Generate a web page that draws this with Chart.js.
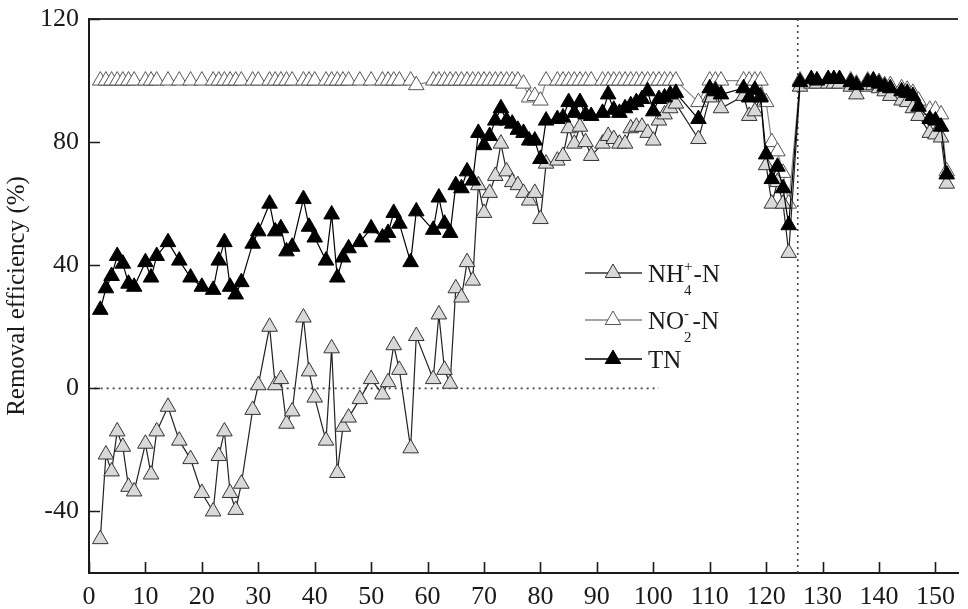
<!DOCTYPE html>
<html>
<head>
<meta charset="utf-8">
<script src="https://cdn.jsdelivr.net/npm/chart.js@4.4.1/dist/chart.umd.min.js"></script>
<style>
    html, body { margin: 0; padding: 0; background: #fff; }
    #wrap { width: 968px; height: 609px; position: relative; }
</style>
</head>
<body>
<div id="wrap"><canvas id="removal-chart"></canvas></div>
<script>
// 運行天數 (d)
const days = [
    2, 3, 4, 5, 6, 7, 8, 10, 11, 12, 14, 16, 18, 20, 22, 23, 24, 25, 26, 27, 29, 30, 32, 33, 34, 35, 36, 38, 39, 40,
    42, 43, 44, 45, 46, 48, 50, 52, 53, 54, 55, 57, 58, 61, 62, 63, 64, 65, 66, 67, 68, 69, 70, 71, 72, 73, 74, 75, 76, 77, 78, 79, 80,
    81, 83, 84, 85, 86, 87, 88, 89, 91, 92, 93, 94, 95, 96, 97, 98, 99, 100, 101, 102, 103, 104,
    108, 110, 111, 112, 116, 117, 118, 119, 120, 121, 122, 123, 124,
    126, 128, 129, 131, 132, 133, 135, 136, 138, 139, 140, 141, 142, 144, 145, 146, 147, 149, 150, 151, 152
];

// NH4+-N 去除率 (%)
const nh4Removal = [
    -49, -21.5, -27, -14, -19, -32, -33.5, -18, -28, -14, -6, -17, -23, -34, -40, -22, -14, -34, -39.5, -31, -7, 1, 20, 1, 3, -11.5, -7.5, 23, 5.5, -3,
    -17, 13, -27.5, -12.5, -9.5, -3.5, 3, -2, 2, 14, 6, -19.5, 17, 3, 24, 6, 1.5, 32.5, 29.5, 41, 35, 66, 57, 63.5, 69, 79.5, 70.5, 67, 66, 63.5, 61, 63.5, 55,
    73, 74, 75.5, 84.5, 79.5, 85, 80, 75.5, 79.5, 82, 81, 79.5, 79.5, 84.5, 85, 85, 83, 80.5, 87, 89, 91, 92.5,
    81, 94.5, 97, 91, 95, 88.5, 90, 95, 72.5, 60, 67, 60, 44,
    98, 99, 99, 99, 99, 99, 98, 95.5, 98, 98.5, 97.5, 96.5, 95, 93.5, 93, 91, 88.5, 83, 82.5, 81.5, 66.5
];

// NO2--N 去除率 (%)
const no2Removal = [
    100, 100, 100, 100, 100, 100, 100, 100, 100, 100, 100, 100, 100, 100, 100, 100, 100, 100, 100, 100, 100, 100, 100, 100, 100, 100, 100, 100, 100, 100,
    100, 100, 100, 100, 100, 100, 100, 100, 100, 100, 100, 100, 98.5, 100, 100, 100, 100, 100, 100, 100, 100, 100, 100, 100, 100, 100, 100, 100, 100, 99, 94.5, 95, 93.5,
    100, 100, 100, 100, 100, 100, 100, 100, 100, 100, 100, 100, 100, 100, 100, 100, 100, 100, 100, 100, 100, 100,
    93, 100, 100, 100, 100, 100, 100, 100, 93, 80, 77, 70, 60,
    100, 100, 100, 100, 100, 100, 100, 99, 100, 100, 99.5, 98.5, 98.5, 97.5, 97, 96, 93.5, 90.5, 90.5, 89, 70.5
];

// TN 去除率 (%)
const tnRemoval = [
    25.5, 32.5, 36.5, 43, 40.5, 34, 33, 41, 36, 43, 47.5, 41.5, 36, 33, 32, 41.5, 47.5, 33, 30.5, 34.5, 47, 51, 60, 51, 52, 44.5, 46, 61.5, 52.5, 49,
    41.5, 56.5, 36, 42.5, 45.5, 47.5, 52, 49, 50.5, 57, 53.5, 41, 57.5, 51.5, 62, 53.5, 50.5, 66, 65, 70.5, 67.5, 83, 79, 82, 87, 91, 87, 86, 84, 83, 80.5, 80.5, 74.5,
    87, 87.5, 88, 93, 89.5, 93, 89, 88.5, 89.5, 95.5, 90.5, 89.5, 91, 92, 93, 94, 96.5, 90, 94, 94.5, 95.5, 96,
    87.5, 97.5, 96.5, 95.5, 97.5, 94.5, 97, 94.5, 76, 68, 72, 65, 53,
    99.5, 100.5, 100, 100.5, 100.5, 100.5, 99.5, 98.5, 99.5, 100, 99, 98, 97.5, 96.5, 96, 95, 91.5, 87.5, 87, 85, 69.5
];

// 參考線：0 % 水平虛線、階段分隔垂直虛線
const zeroRefDays = [1, 101];
const zeroRefValues = [0, 0];
const phaseSplitDays = [125.6, 125.6];
const phaseSplitValues = [-60, 120];

// 座標軸
const xTickValues = [0, 10, 20, 30, 40, 50, 60, 70, 80, 90, 100, 110, 120, 130, 140, 150];
const yTickValues = [-40, 0, 40, 80, 120];
const xRange = [0, 154];
const yRange = [-60, 120];

const seriesLabels = ['NH4+-N', 'NO2--N', 'TN'];
const yAxisTitle = 'Removal efficiency (%)';

const FONT = '"Liberation Serif", "Times New Roman", serif';
const INK = '#1a1a1a';

function toPoints(xs, ys) {
    return xs.map((x, i) => ({ x: x, y: ys[i] }));
}

// 圖例條目：文字分段 (0 一般, 1 下標, -1 上標)
const legendRows = [
    { y: 273, parts: [['NH', 0], ['4', 1], ['+', -1], ['-N', 0]], line: '#333', fill: '#d9d9d9', stroke: '#333' },
    { y: 320, parts: [['NO', 0], ['2', 1], ['-', -1], ['-N', 0]], line: '#888', fill: '#ffffff', stroke: '#555' },
    { y: 359, parts: [['TN', 0]], line: '#000', fill: '#000000', stroke: '#000' }
];

const innerTicksAndLegend = {
    id: 'innerTicksAndLegend',
    afterDraw(chart) {
        const ctx = chart.ctx;
        const area = chart.chartArea;
        const xs = chart.scales.x;
        const ys = chart.scales.y;

        // 向內刻度
        ctx.save();
        ctx.strokeStyle = INK;
        ctx.lineWidth = 1.6;
        ctx.beginPath();
        xTickValues.forEach(v => {
            const px = Math.round(xs.getPixelForValue(v)) + 0.5;
            ctx.moveTo(px, area.bottom);
            ctx.lineTo(px, area.bottom - 11);
        });
        yTickValues.forEach(v => {
            const py = Math.round(ys.getPixelForValue(v)) + 0.5;
            ctx.moveTo(area.left, py);
            ctx.lineTo(area.left + 11, py);
        });
        ctx.stroke();

        // 圖例
        const lineX0 = 585, lineX1 = 642, markX = 613, textX = 648;
        legendRows.forEach(row => {
            ctx.strokeStyle = row.line;
            ctx.lineWidth = 1.3;
            ctx.beginPath();
            ctx.moveTo(lineX0, row.y);
            ctx.lineTo(lineX1, row.y);
            ctx.stroke();

            ctx.fillStyle = row.fill;
            ctx.strokeStyle = row.stroke;
            ctx.lineWidth = 1;
            Chart.helpers.drawPoint(ctx, { pointStyle: 'triangle', radius: 9, borderWidth: 1, rotation: 0 }, markX, row.y);

            let x = textX;
            const base = row.y + 9;
            ctx.fillStyle = INK;
            ctx.textBaseline = 'alphabetic';
            ctx.textAlign = 'left';
            let stackStart = null, stackWidth = 0;
            row.parts.forEach(([txt, kind]) => {
                if (kind === 0) {
                    if (stackStart !== null) { x = stackStart + stackWidth + 1; stackStart = null; stackWidth = 0; }
                    ctx.font = '25px ' + FONT;
                    ctx.fillText(txt, x, base);
                    x += ctx.measureText(txt).width;
                } else {
                    if (stackStart === null) stackStart = x;
                    ctx.font = '15px ' + FONT;
                    ctx.fillText(txt, stackStart, kind === 1 ? base + 13 : base - 11);
                    stackWidth = Math.max(stackWidth, ctx.measureText(txt).width);
                }
            });
        });
        ctx.restore();
    }
};

const markerBase = { pointStyle: 'triangle', pointRadius: 9, pointHoverRadius: 9, pointBorderWidth: 1, showLine: true, borderWidth: 1.2 };

const chartData = {
    datasets: [
        {
            ...markerBase,
            label: seriesLabels[2],
            data: toPoints(days, tnRemoval),
            borderColor: '#000',
            pointBackgroundColor: '#000',
            pointBorderColor: '#000',
            order: 1
        },
        {
            ...markerBase,
            label: seriesLabels[0],
            data: toPoints(days, nh4Removal),
            borderColor: '#222',
            pointBackgroundColor: '#d9d9d9',
            pointBorderColor: '#333',
            order: 2
        },
        {
            ...markerBase,
            label: seriesLabels[1],
            data: toPoints(days, no2Removal),
            borderColor: '#888',
            pointBackgroundColor: '#fff',
            pointBorderColor: '#555',
            order: 3
        },
        {
            label: 'zero',
            data: toPoints(zeroRefDays, zeroRefValues),
            showLine: true,
            pointRadius: 0,
            borderColor: '#444',
            borderWidth: 1.6,
            borderDash: [2, 4],
            order: 4
        },
        {
            label: 'split',
            data: toPoints(phaseSplitDays, phaseSplitValues),
            showLine: true,
            pointRadius: 0,
            borderColor: '#444',
            borderWidth: 1.6,
            borderDash: [2, 4],
            order: 5
        }
    ]
};

const options = {
    responsive: true,
    maintainAspectRatio: false,
    animation: false,
    layout: { padding: { top: 19, right: 0, bottom: 0, left: 0 } },
    plugins: {
        legend: { display: false },
        tooltip: { enabled: false }
    },
    scales: {
        x: {
            type: 'linear',
            min: xRange[0],
            max: xRange[1],
            afterBuildTicks: scale => { scale.ticks = xTickValues.map(v => ({ value: v })); },
            afterFit: scale => { scale.height = 36; },
            grid: { display: false },
            border: { display: true, color: INK, width: 2 },
            ticks: {
                color: INK,
                font: { family: FONT, size: 26 },
                padding: 1,
                maxRotation: 0,
                autoSkip: false
            }
        },
        y: {
            type: 'linear',
            min: yRange[0],
            max: yRange[1],
            afterBuildTicks: scale => { scale.ticks = yTickValues.map(v => ({ value: v })); },
            afterFit: scale => {
                scale.width = 89;
                scale.paddingTop = 0;
                scale.paddingBottom = 0;
            },
            grid: {
                drawTicks: false,
                color: ctx => (ctx.tick && ctx.tick.value === 120 ? '#333' : 'rgba(0,0,0,0)'),
                lineWidth: 2
            },
            border: { display: true, color: INK, width: 2 },
            title: {
                display: true,
                text: yAxisTitle,
                color: INK,
                font: { family: FONT, size: 25 },
                padding: { top: 2, bottom: 0 }
            },
            ticks: {
                color: INK,
                font: { family: FONT, size: 26 },
                padding: 10
            }
        }
    }
};

new Chart(document.getElementById('removal-chart'), {
    type: 'scatter',
    data: chartData,
    options: options,
    plugins: [innerTicksAndLegend]
});
</script>
</body>
</html>
